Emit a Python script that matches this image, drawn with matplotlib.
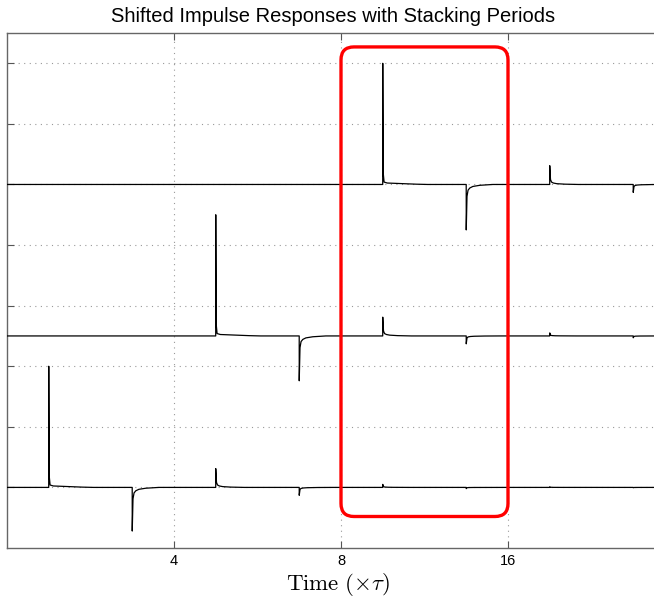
import matplotlib
matplotlib.use("Agg")
import matplotlib.pyplot as plt
import numpy as np
from matplotlib.patches import FancyBboxPatch

plt.rcParams['font.family'] = ['Liberation Sans', 'DejaVu Sans']
plt.rcParams['mathtext.fontset'] = 'cm'

# ---- data ----
pulse_times = [1, 3, 5, 7, 9, 11, 13, 15]          # slot times (x units)
# amplitude of each response at the slots, per trace (bottom, middle, top)
amps_bottom = [2.0, -0.72, 0.31, -0.13, 0.05, -0.02, 0.01, -0.005]
amps_middle = [0.0, 0.0, 2.0, -0.74, 0.31, -0.13, 0.05, -0.03]
amps_top    = [0.0, 0.0, 0.0, 0.0, 2.0, -0.75, 0.31, -0.13]
offsets = [0.0, 2.5, 5.0]
# normalized shape of the primary spike (time after spike, relative height)
prim_dt  = [-0.001, 0.0, 0.01, 0.03, 0.1, 0.5, 1.0]
prim_val = [0.0, 1.0, 0.1, 0.02, 0.012, 0.006, 0.0]
# normalized shape of the reflected spikes
refl_dt  = [-0.001, 0.0, 0.015, 0.04, 0.08, 0.15, 0.3, 0.6]
refl_val = [0.0, 1.0, 0.28, 0.13, 0.08, 0.045, 0.02, 0.0]

xtick_pos = [4, 8, 12]
xtick_lab = ["4", "8", "16"]
ytick_pos = [0, 1, 2, 3, 4, 5, 6, 7]
box_x = (8, 12)
box_y = (-0.48, 7.27)

fig = plt.figure(figsize=(6.54, 5.97), dpi=100)
W, H = 654, 597
ax_l, ax_r, ax_t, ax_b = 7, 675, 33, 548
ax = fig.add_axes([ax_l / W, 1 - ax_b / H, (ax_r - ax_l) / W, (ax_b - ax_t) / H])
ax.set_xlim(0, 16)
ax.set_ylim(-1, 7.5)

t = np.linspace(0, 16, 16001)
for amps, off in zip([amps_bottom, amps_middle, amps_top], offsets):
    y = np.zeros_like(t)
    first = True
    for tp, a in zip(pulse_times, amps):
        if a == 0:
            continue
        if first:
            y += a * np.interp(t - tp, prim_dt, prim_val, left=0.0, right=0.0)
            first = False
        else:
            y += a * np.interp(t - tp, refl_dt, refl_val, left=0.0, right=0.0)
    ax.plot(t, y + off, color='black', lw=0.9, zorder=3)

ax.set_xticks(xtick_pos)
ax.set_xticklabels(xtick_lab, fontsize=10.5)
ax.set_yticks(ytick_pos)
ax.set_yticklabels([])
ax.tick_params(direction='in', top=True, right=True, length=5, color='#555555', width=0.8, pad=4)
ax.grid(True, linestyle=(0, (1, 4)), color='#999999', lw=0.8)
for s in ax.spines.values():
    s.set_color('#666666')
    s.set_linewidth(1.0)

px_x = (ax_r - ax_l) / 16.0
px_y = (ax_b - ax_t) / 8.5
box = FancyBboxPatch((box_x[0], box_y[0]), box_x[1] - box_x[0], box_y[1] - box_y[0],
                     boxstyle="round,pad=0,rounding_size=%.3f" % (13 / px_x),
                     mutation_aspect=px_x / px_y,
                     fill=False, edgecolor='#ff0000', lw=2.4, zorder=4)
ax.add_patch(box)

fig.text(333 / W, 1 - 17 / H, "Shifted Impulse Responses with Stacking Periods",
         ha='center', va='center', fontsize=14.5)
fig.text(338 / W, 1 - 584 / H, r"$\mathrm{Time}\ (\times\tau)$",
         ha='center', va='center', fontsize=16.5)

fig.savefig("out.png", dpi=100)
